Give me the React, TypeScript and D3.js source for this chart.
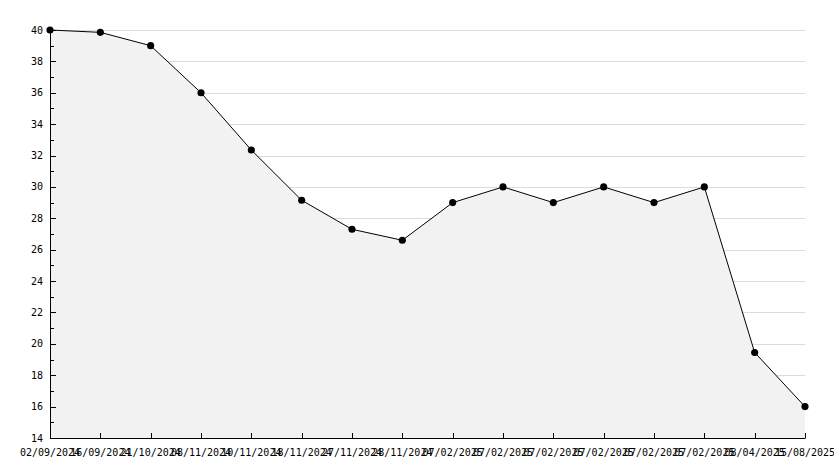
import React from "react";
import * as d3 from "d3";

const labels: string[] = [
  "02/09/2024", "16/09/2024", "21/10/2024", "08/11/2024", "10/11/2024",
  "18/11/2024", "27/11/2024", "28/11/2024", "07/02/2025", "07/02/2025",
  "07/02/2025", "07/02/2025", "07/02/2025", "07/02/2025", "08/04/2025",
  "15/08/2025",
];
const values: number[] = [
  40, 39.85, 39, 36, 32.35, 29.15, 27.3, 26.6, 29, 30, 29, 30, 29, 30, 19.45, 16,
];
const yMajor: number[] = [14, 16, 18, 20, 22, 24, 26, 28, 30, 32, 34, 36, 38, 40];
const yMinor: number[] = [15, 17, 19, 21, 23, 25, 27, 29, 31, 33, 35, 37, 39];

const W = 834;
const H = 468;
const left = 50;
const right = 805;
const top = 30;
const bottom = 438;

export default function App() {
  const x = d3.scalePoint<number>().domain(values.map((_, i) => i)).range([left, right]);
  const y = d3.scaleLinear().domain([14, 40]).range([bottom, top]);
  const line = d3.line<number>().x((_, i) => x(i)!).y((d) => y(d));
  const area = d3.area<number>().x((_, i) => x(i)!).y0(y(14)).y1((d) => y(d));
  const font = "'DejaVu Sans Mono', monospace";
  const star = d3.symbol().type(d3.symbolCircle).size(40)();
  return (
    <svg
      width={W}
      height={H}
      style={{ position: "absolute", left: 0, top: 0, background: "#fff" }}
    >
      {yMajor.map((v) => (
        <line key={"g" + v} x1={left} x2={right} y1={Math.round(y(v)) + 0.5} y2={Math.round(y(v)) + 0.5} stroke="#dcdcdc" strokeWidth={1} />
      ))}
      <path d={area(values) || ""} fill="#f2f2f2" />
      <path d={line(values) || ""} fill="none" stroke="#000" strokeWidth={1} />
      {values.map((v, i) => (
        <path key={"p" + i} d={star || ""} transform={`translate(${x(i)!},${y(v)})`} fill="#000" />
      ))}
      <line x1={left + 0.5} x2={left + 0.5} y1={top} y2={bottom + 0.5} stroke="#000" />
      <line x1={left} x2={right + 0.5} y1={bottom + 0.5} y2={bottom + 0.5} stroke="#000" />
      {yMajor.map((v) => (
        <g key={"ym" + v}>
          <line x1={left} x2={left + 6} y1={Math.round(y(v)) + 0.5} y2={Math.round(y(v)) + 0.5} stroke="#000" />
          <text x={43} y={y(v)} dy="0.35em" textAnchor="end" fontFamily={font} fontSize={10} fill="#000">
            {v}
          </text>
        </g>
      ))}
      {yMinor.map((v) => (
        <line key={"yn" + v} x1={left} x2={left + 4} y1={Math.round(y(v)) + 0.5} y2={Math.round(y(v)) + 0.5} stroke="#000" />
      ))}
      {labels.map((l, i) => (
        <g key={"x" + i}>
          <line x1={Math.round(x(i)!) + 0.5} x2={Math.round(x(i)!) + 0.5} y1={bottom} y2={bottom - 5} stroke="#000" />
          <text x={x(i)!} y={456} textAnchor="middle" fontFamily={font} fontSize={10} fill="#000">
            {l}
          </text>
        </g>
      ))}
    </svg>
  );
}
